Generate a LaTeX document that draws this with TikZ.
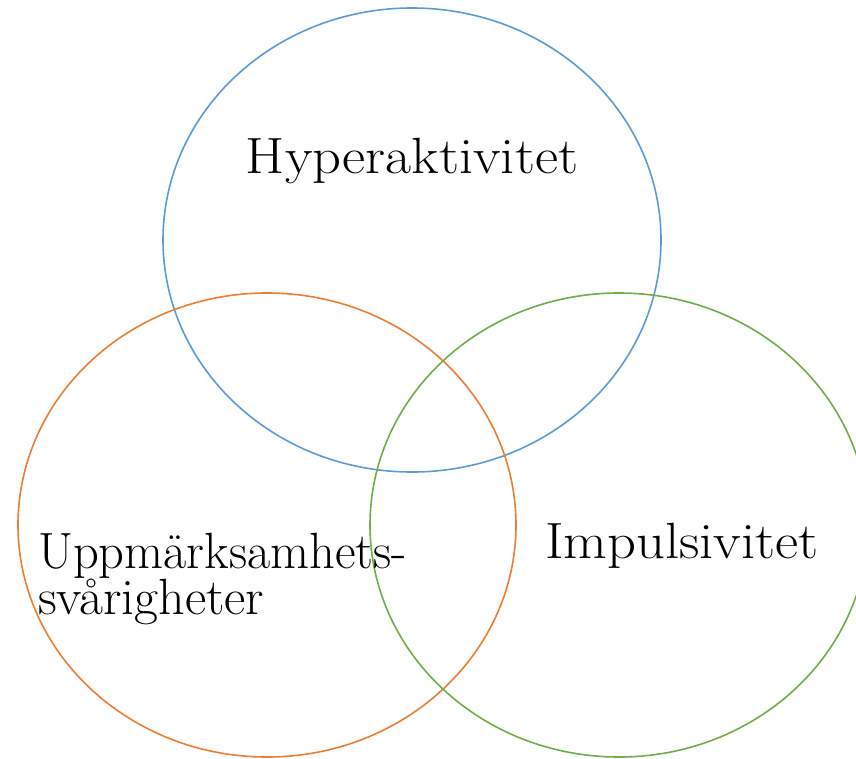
\documentclass[tikz,border=0pt]{standalone}
\definecolor{vblue}{HTML}{5B9BD5}
\definecolor{vorange}{HTML}{ED7D31}
\definecolor{vgreen}{HTML}{70AD47}
\begin{document}
\begin{tikzpicture}[x=1pt,y=-1pt,
  ring/.style={line width=1.6pt},
  lbl/.style={font=\fontsize{51}{50}\selectfont, inner sep=0pt}]
\useasboundingbox (0,0) rectangle (856,758);
\clip (0,0) rectangle (856,758);
\draw[ring, vblue] (412,240) ellipse [x radius=249, y radius=232];
\draw[ring, vorange] (267,525) ellipse [x radius=249, y radius=232];
\draw[ring, vgreen] (619,525) ellipse [x radius=249, y radius=232];
\node[lbl, anchor=base, xscale=1.11] (hyp) at (412,173) {Hyperaktivitet};
\node[lbl, anchor=base west, xscale=1.11] (imp) at (545,558) {Impulsivitet};
\node[lbl, anchor=base west, xscale=0.99] (upp) at (38,568) {Uppmärksamhets-};
\node[lbl, anchor=base west, xscale=1.02] (sva) at (38,614) {svårigheter};
\end{tikzpicture}
\end{document}
